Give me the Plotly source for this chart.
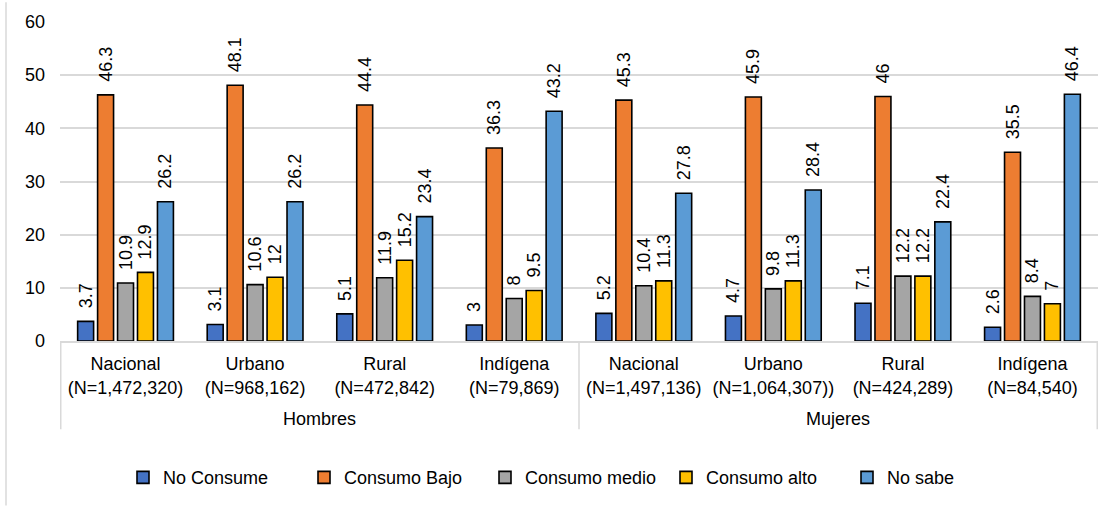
import plotly.graph_objects as go

# Category labels (two-line) and their parent groups
categories = [
    "Nacional<br>(N=1,472,320)", "Urbano<br>(N=968,162)", "Rural<br>(N=472,842)", "Indígena<br>(N=79,869)",
    "Nacional<br>(N=1,497,136)", "Urbano<br>(N=1,064,307))", "Rural<br>(N=424,289)", "Indígena<br>(N=84,540)",
]
groups = ["Hombres", "Mujeres"]

# Series values (%)
no_consume = [3.7, 3.1, 5.1, 3, 5.2, 4.7, 7.1, 2.6]
consumo_bajo = [46.3, 48.1, 44.4, 36.3, 45.3, 45.9, 46, 35.5]
consumo_medio = [10.9, 10.6, 11.9, 8, 10.4, 9.8, 12.2, 8.4]
consumo_alto = [12.9, 12, 15.2, 9.5, 11.3, 11.3, 12.2, 7]
no_sabe = [26.2, 26.2, 23.4, 43.2, 27.8, 28.4, 22.4, 46.4]

series = [
    ("No Consume", no_consume, "#4472C4"),
    ("Consumo Bajo", consumo_bajo, "#ED7D31"),
    ("Consumo medio", consumo_medio, "#A5A5A5"),
    ("Consumo alto", consumo_alto, "#FFC000"),
    ("No sabe", no_sabe, "#5B9BD5"),
]

FONT = "Liberation Sans, Arial, sans-serif"

fig = go.Figure()
for name, vals, color in series:
    fig.add_trace(go.Bar(
        name=name, x=categories, y=vals,
        marker=dict(color=color, line=dict(color="#000000", width=1.6)),
        texttemplate="\u00a0\u00a0%{y}", textposition="outside", textangle=-90,
        constraintext="none", cliponaxis=False,
        textfont=dict(family=FONT, size=18, color="#000000"),
    ))

# Plot area spans 322 px vertically (y 20..342); helper to turn a pixel row into paper units
def py(pix):
    return (342 - pix) / 322

def px(pix):
    return (pix - 60) / 1038

shapes = []
# group dividers below the axis
for xb in [-0.5, 3.5, 7.5]:
    shapes.append(dict(type="line", xref="x", yref="paper", x0=xb, x1=xb, y0=0, y1=py(431),
                       line=dict(color="#D9D9D9", width=1.5)))
# chart-area border on the left
shapes.append(dict(type="line", xref="paper", yref="paper", x0=px(6), x1=px(6), y0=py(0), y1=py(508),
                   line=dict(color="#D9D9D9", width=1.5)))

annotations = []
for i, g in enumerate(groups):
    annotations.append(dict(text=g, xref="x", yref="paper", x=1.5 + 4 * i, y=py(421),
                            showarrow=False, yanchor="middle",
                            font=dict(family=FONT, size=18, color="#000000")))

fig.update_layout(
    width=1115, height=508,
    margin=dict(l=60, r=17, t=20, b=166),
    paper_bgcolor="white", plot_bgcolor="white",
    barmode="group", bargap=0.23, bargroupgap=0.2,
    font=dict(family=FONT, size=18, color="#000000"),
    shapes=shapes, annotations=annotations,
    legend=dict(orientation="h", x=px(123), xanchor="left", y=py(480), yanchor="middle",
                font=dict(family=FONT, size=18, color="#000000"),
                entrywidth=136, entrywidthmode="pixels", bgcolor="rgba(0,0,0,0)"),
    xaxis=dict(showline=True, linecolor="#D9D9D9", linewidth=1.5, ticks="",
               ticklabelstandoff=6,
               tickfont=dict(family=FONT, size=18, color="#000000"), showgrid=False),
    yaxis=dict(range=[0, 60], dtick=10, showgrid=True, gridcolor="#D9D9D9", gridwidth=1.5,
               showline=False, zeroline=False, ticks="", ticklabelstandoff=14,
               tickfont=dict(family=FONT, size=18, color="#000000")),
)

fig.write_html("out.html")
